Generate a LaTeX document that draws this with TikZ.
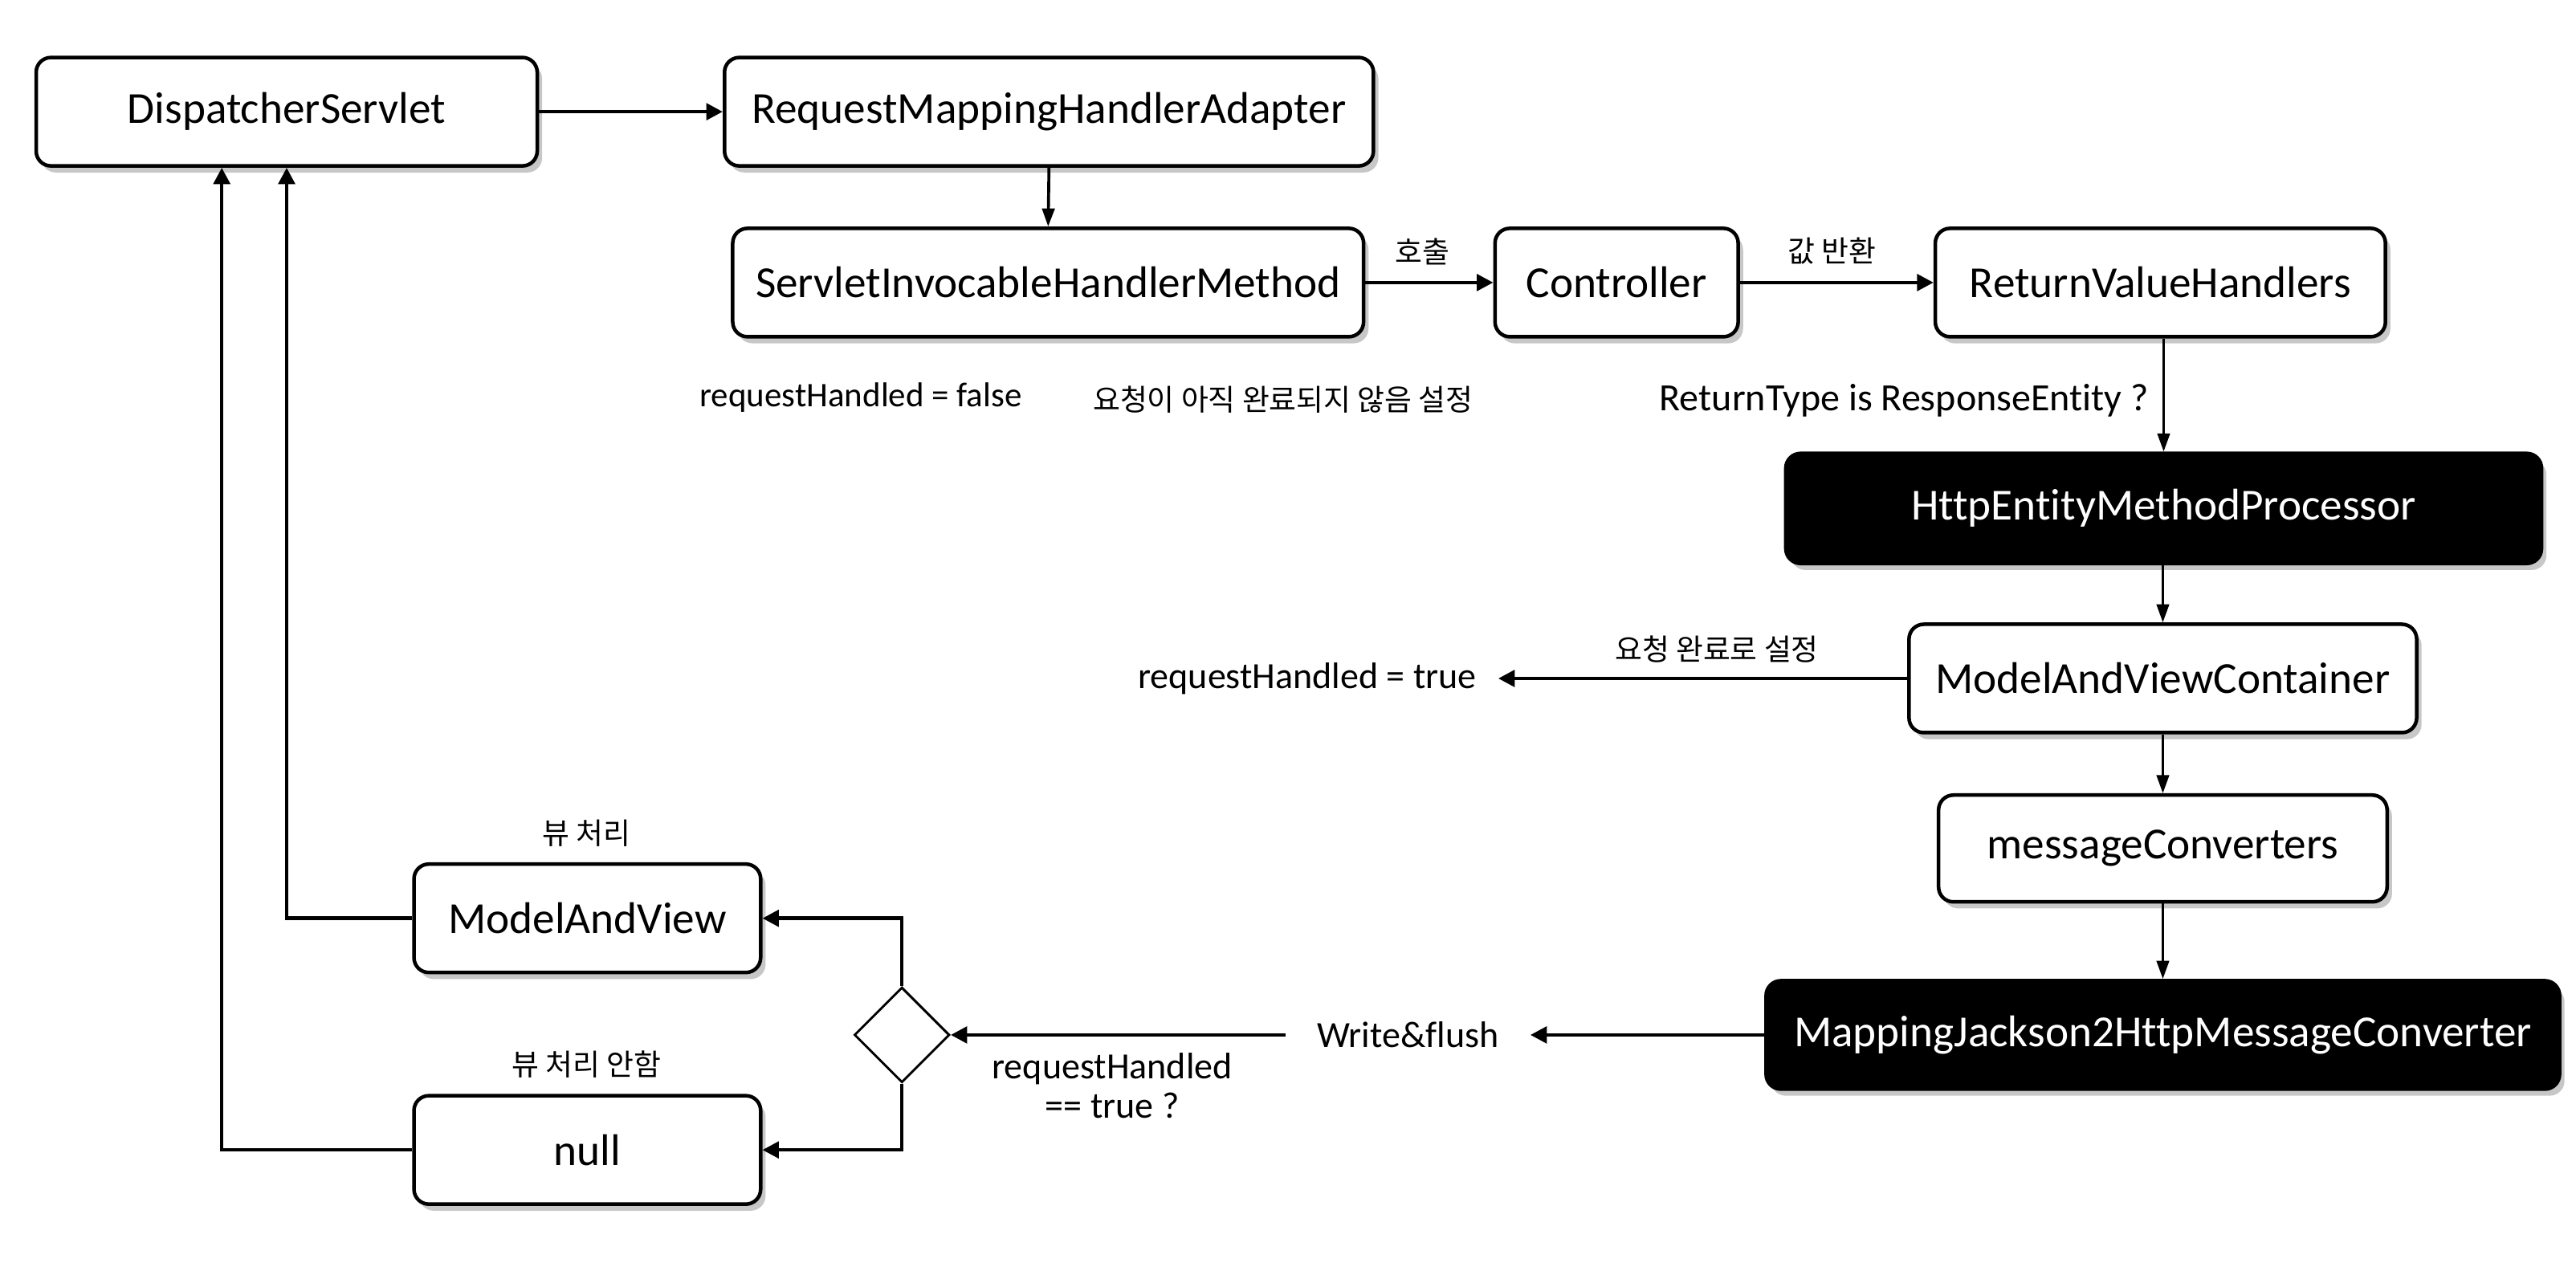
\documentclass[tikz,border=0pt]{standalone}
\usepackage{fontspec}
\setmainfont[Ligatures={NoCommon,NoRare}]{Carlito}
\newfontfamily\kr{Noto Sans CJK KR}
\usetikzlibrary{arrows.meta,shapes.geometric,shadows}
\begin{document}
\begin{tikzpicture}[x=1pt,y=-1pt,
  box/.style={draw=black,line width=2.2pt,rounded corners=9pt,fill=white,inner sep=0pt,
    minimum height=66pt,font=\fontsize{27}{32}\selectfont,
    drop shadow={shadow xshift=3pt,shadow yshift=-4pt,fill=black,opacity=0.22}},
  dark/.style={box,fill=black,text=white},
  lbl/.style={font=\fontsize{22.5}{26}\selectfont,inner sep=0pt},
  klbl/.style={font=\kr\fontsize{18}{22}\selectfont,inner sep=0pt},
  thickarr/.style={line width=2.2pt,-{Triangle[length=10pt,width=10pt]}},
  thinarr/.style={line width=1.5pt,-{Triangle[length=11pt,width=7.5pt]}},
  retline/.style={line width=2.2pt,-{Triangle[length=10pt,width=10pt]}}]
\useasboundingbox (0,0) rectangle (1568,768.4);
% boxes
\node[box,minimum width=305pt] (ds) at (174.5,68) {DispatcherServlet};
\node[box,minimum width=395pt] (rmha) at (638.5,68) {RequestMappingHandlerAdapter};
\node[box,minimum width=384pt] (sihm) at (638,172) {ServletInvocableHandlerMethod};
\node[box,minimum width=148pt] (ctrl) at (984,172) {Controller};
\node[box,minimum width=274pt] (rvh) at (1315,172) {ReturnValueHandlers};
\node[dark,minimum width=460pt,minimum height=67pt] (hemp) at (1317,309.5) {HttpEntityMethodProcessor};
\node[box,minimum width=309pt] (mavc) at (1316.5,413) {ModelAndViewContainer};
\node[box,minimum width=273pt,minimum height=65pt] (mc) at (1316.5,516.5) {messageConverters};
\node[dark,minimum width=483pt] (mj) at (1316.5,630) {MappingJackson2HttpMessageConverter};
\node[box,minimum width=211pt] (mav) at (357.5,559) {ModelAndView};
\node[box,minimum width=211pt] (nul) at (357.5,700) {null};
\node[diamond,draw=black,line width=1.4pt,fill=white,minimum width=58pt,minimum height=58pt,inner sep=0pt] (dia) at (549,630) {};
% labels
\node[klbl] (l1) at (866,153) {호출};
\node[klbl] (l2) at (1115,153) {값 반환};
\node[lbl,font=\fontsize{21}{25}\selectfont] (l3) at (524,242) {requestHandled = false};
\node[klbl] (l4) at (781,243) {요청이 아직 완료되지 않음 설정};
\node[lbl,font=\fontsize{23.5}{27}\selectfont] (l5) at (1159,244) {ReturnType is ResponseEntity ?};
\node[klbl] (l6) at (1045,395) {요청 완료로 설정};
\node[lbl,anchor=east,inner xsep=13pt] (rtrue) at (912,413) {requestHandled = true};
\node[lbl,inner xsep=19pt] (wf) at (857,630) {Write\&flush};
\node[lbl,align=center,font=\fontsize{22.5}{24}\selectfont] (l7) at (677,661) {requestHandled\\== true ?};
\node[klbl] (l8) at (357,507) {뷰 처리};
\node[klbl] (l9) at (357,648) {뷰 처리 안함};
% connectors
\draw[thickarr] (ds.east) -- (rmha.west);
\draw[thinarr,line width=1.8pt] (rmha.south) -- (sihm.north);
\draw[thickarr] (sihm.east) -- (ctrl.west);
\draw[thickarr] (ctrl.east) -- (rvh.west);
\draw[thinarr] (hemp.north |- rvh.south) -- (hemp.north);
\draw[thinarr] (hemp.south -| mavc.north) -- (mavc.north);
\draw[thinarr] (mavc.south) -- (mc.north);
\draw[thinarr] (mc.south) -- (mj.north);
\draw[thickarr] (mavc.west) -- (rtrue.east);
\draw[thickarr] (mj.west) -- (wf.east);
\draw[thickarr] (wf.west) -- (dia.east);
\draw[retline] (dia.north) |- (mav.east);
\draw[retline] (dia.south) |- (nul.east);
\draw[retline] (mav.west) -| (ds.south);
\draw[retline] (nul.west) -| ([xshift=-39.5pt]ds.south);
\end{tikzpicture}
\end{document}
